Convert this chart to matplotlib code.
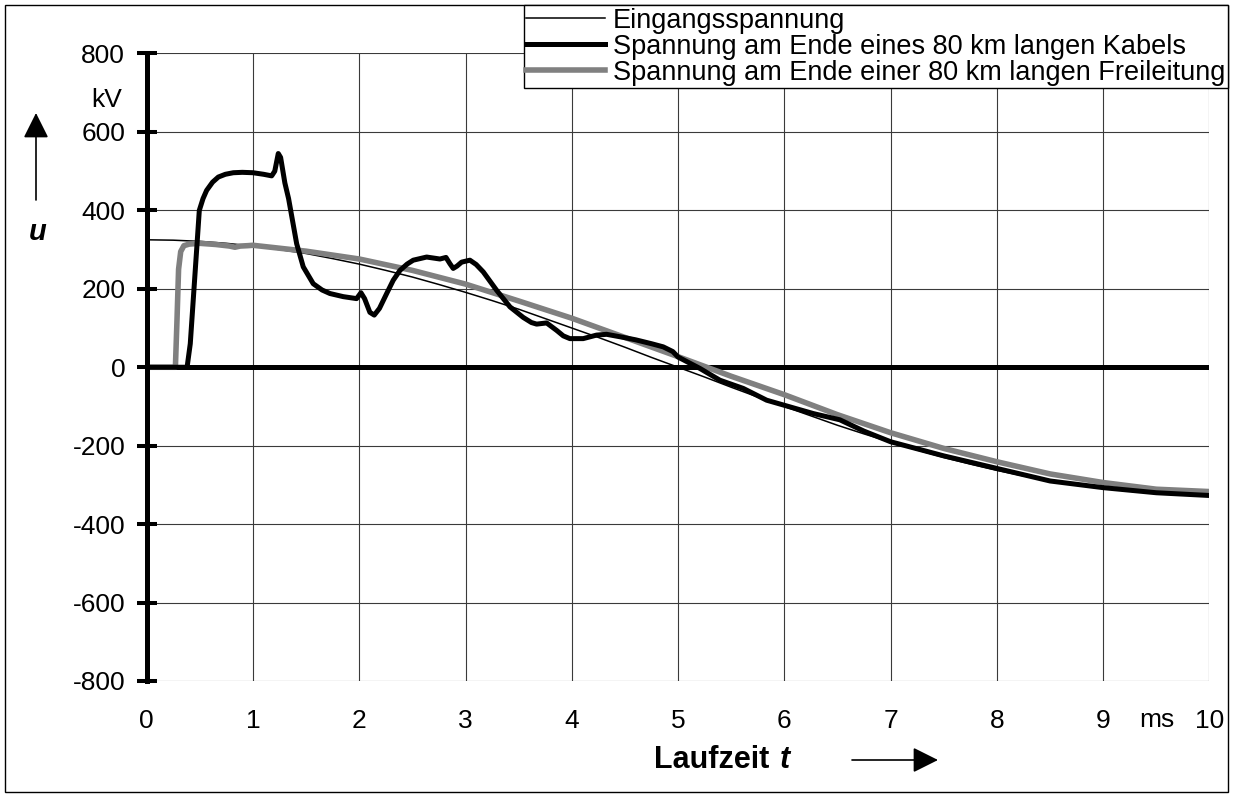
import matplotlib
matplotlib.use("Agg")
import matplotlib.pyplot as plt
from matplotlib.patches import Rectangle
from matplotlib.transforms import blended_transform_factory

plt.rcParams["font.family"] = ["Liberation Sans", "DejaVu Sans"]

# input voltage, every 0.25 ms (kV)
t_in = [i * 0.25 for i in range(41)]
u_in = [325, 324, 321, 316, 309, 300, 290, 277, 263, 247, 230, 211, 191, 170, 148, 124,
        100, 76, 51, 25, 0, -25, -51, -76, -100, -124, -148, -170, -191, -211, -230,
        -247, -263, -277, -290, -300, -309, -316, -321, -324, -325]

# voltage at the end of the 80 km cable
t_cab = [0, 0.38, 0.41, 0.445, 0.495, 0.53, 0.564, 0.62, 0.674, 0.74, 0.815, 0.9, 1.0,
         1.1, 1.176, 1.205, 1.238, 1.26, 1.30, 1.335, 1.411, 1.473, 1.567, 1.65, 1.724,
         1.85, 1.975, 2.016, 2.05, 2.10, 2.141, 2.19, 2.258, 2.32, 2.383, 2.45, 2.508,
         2.634, 2.759, 2.816, 2.853, 2.884, 2.92, 2.963, 3.041, 3.10, 3.167, 3.293, 3.418,
         3.543, 3.62, 3.669, 3.763, 3.857, 3.92, 3.982, 4.107, 4.233, 4.327, 4.468, 4.60,
         4.75, 4.86, 4.95, 5.0, 5.205, 5.393, 5.613, 5.833, 6.0, 6.271, 6.522, 6.75, 7.0,
         7.5, 8.0, 8.5, 9.0, 9.5, 10.0]
u_cab = [0, 0, 60, 200, 400, 430, 451, 472, 485, 492, 496, 497, 496,
         492, 488, 500, 545, 535, 470, 430, 315, 256, 213, 197, 188,
         180, 175, 190, 175, 140, 133, 150, 188, 222, 247, 263, 273,
         281, 276, 280, 264, 252, 258, 268, 273, 262, 243, 196, 154,
         127, 114, 110, 113, 94, 80, 73, 73, 82, 84, 77, 70,
         60, 52, 40, 26, -3, -33, -54, -84, -97, -118, -134, -163, -190,
         -226, -258, -290, -307, -320, -327]

# voltage at the end of the 80 km overhead line
t_ohl = [0, 0.27, 0.285, 0.30, 0.32, 0.35, 0.40, 0.50, 0.65, 0.78, 0.83, 0.88, 0.95, 1.0,
         1.5, 2.0, 2.5, 3.0, 3.5, 4.0, 4.5, 5.0, 5.5, 6.0, 6.5, 7.0, 7.5, 8.0, 8.5, 9.0,
         9.5, 10.0]
u_ohl = [0, 0, 120, 250, 295, 310, 314, 316, 313, 309, 306, 309, 310, 311,
         296, 276, 247, 212, 169, 125, 76, 27, -23, -70, -121, -167, -207, -241, -272,
         -294, -311, -317]

labels = ["Eingangsspannung",
          "Spannung am Ende eines 80 km langen Kabels",
          "Spannung am Ende einer 80 km langen Freileitung"]
x_ticks = list(range(11))
y_ticks = list(range(-800, 801, 200))

W, H = 1236, 800
fig = plt.figure(figsize=(W / 100, H / 100), dpi=100)
ax = fig.add_axes([146.7 / W, 1 - 681 / H, 1062.8 / W, 627.5 / H])

ax.set_xlim(0, 10)
ax.set_ylim(-800, 800)
ax.grid(True, color="#3a3a3a", lw=0.8)
ax.set_axisbelow(True)
for side in ("top", "right", "bottom"):
    ax.spines[side].set_visible(False)
ax.spines["left"].set_linewidth(3.6)
ax.spines["left"].set_zorder(6)

ax.set_yticks(y_ticks)
ax.set_yticklabels([str(v) for v in y_ticks])
ax.tick_params(axis="y", direction="inout", length=15, width=2.9, pad=8, labelsize=19)
ax.set_xticks(x_ticks)
ax.set_xticklabels([str(v) for v in x_ticks])
ax.tick_params(axis="x", length=0, pad=20, labelsize=19)

ax.axhline(0, color="black", lw=3.6, zorder=2)

l_in, = ax.plot(t_in, u_in, color="black", lw=1.1, zorder=3)
l_ohl, = ax.plot(t_ohl, u_ohl, color="#808080", lw=4.0, zorder=4)
l_cab, = ax.plot(t_cab, u_cab, color="black", lw=3.6, zorder=5, solid_joinstyle="round")

# units and axis captions
trans = blended_transform_factory(ax.transData, fig.transFigure)
ax.text(9.5, 1 - 720 / H, "ms", transform=trans, ha="center", va="center", fontsize=19)
fig.text(122 / W, 1 - 100 / H, "kV", ha="right", va="center", fontsize=19)
fig.text(38 / W, 1 - 232 / H, "u", ha="center", va="center", fontsize=21,
         fontweight="bold", fontstyle="italic")
fig.text(778 / W, 1 - 760 / H, "Laufzeit ", ha="right", va="center", fontsize=22,
         fontweight="bold")
fig.text(780 / W, 1 - 760 / H, "t", ha="left", va="center", fontsize=22,
         fontweight="bold", fontstyle="italic")
arrow = dict(arrowstyle="-|>,head_length=0.6,head_width=0.3", color="black", lw=1.2,
             mutation_scale=26, shrinkA=0, shrinkB=0)
ax.annotate("", xy=(36 / W, 1 - 113 / H), xytext=(36 / W, 1 - 200 / H),
            xycoords="figure fraction", textcoords="figure fraction", arrowprops=arrow)
ax.annotate("", xy=(938 / W, 1 - 760 / H), xytext=(852 / W, 1 - 760 / H),
            xycoords="figure fraction", textcoords="figure fraction", arrowprops=arrow)

leg = fig.legend([l_in, l_cab, l_ohl], labels, loc="upper right",
                 bbox_to_anchor=(1228 / W, 1 - 5 / H), fontsize=19.5, frameon=True,
                 fancybox=False, edgecolor="black", framealpha=1, borderpad=0.1,
                 labelspacing=0.0, handlelength=2.9, handletextpad=0.3, borderaxespad=0)
leg.get_frame().set_linewidth(1.0)

fig.patches.append(Rectangle((5 / W, 1 - 792 / H), 1223 / W, 787 / H, transform=fig.transFigure,
                             fill=False, ec="black", lw=1.0))

fig.savefig("out.png", dpi=100)
